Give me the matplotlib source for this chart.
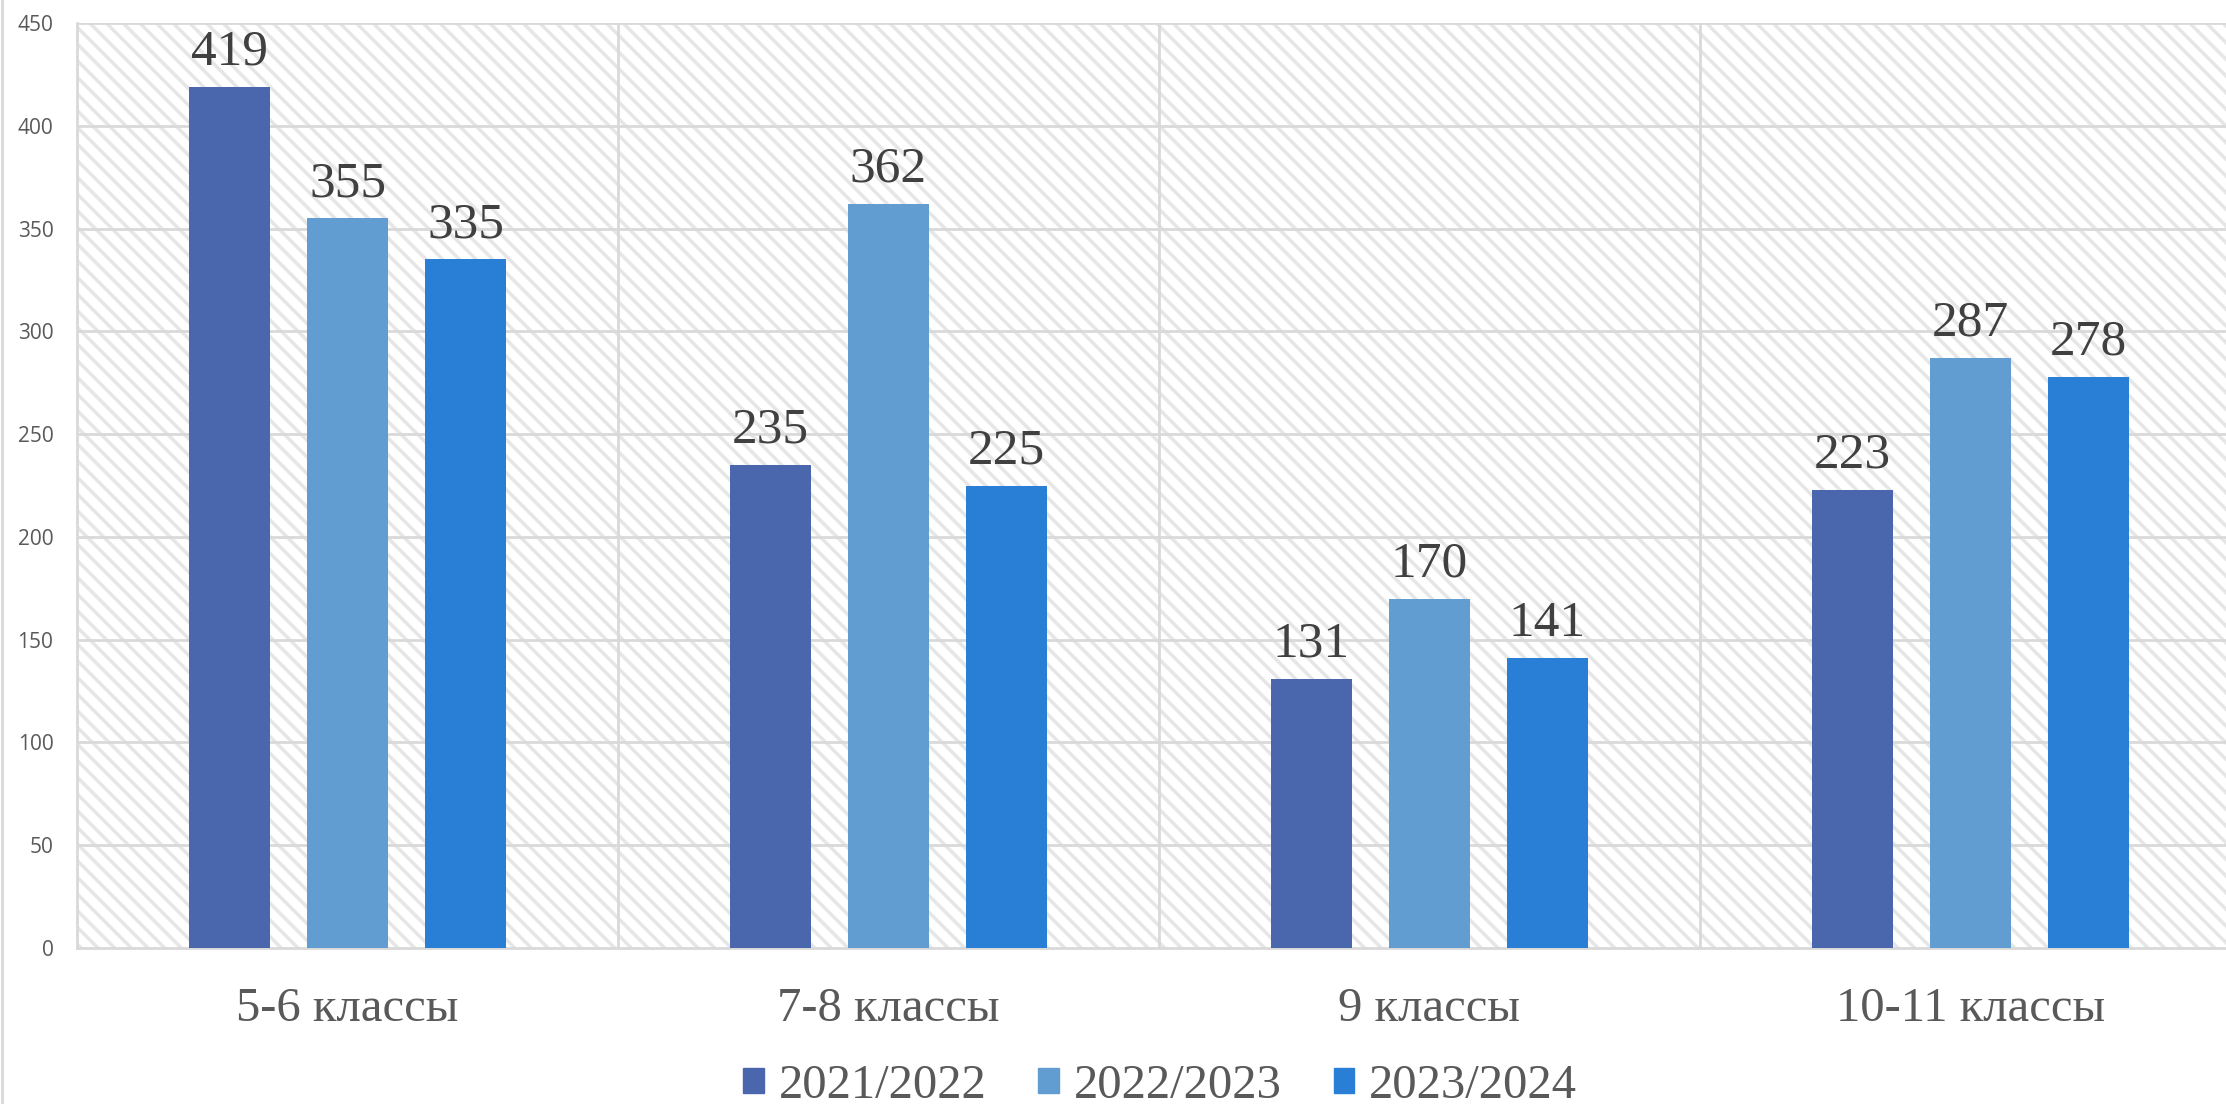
import matplotlib.pyplot as plt
import numpy as np
from matplotlib.patches import Rectangle
from matplotlib.lines import Line2D

# data
categories = ['5-6 классы', '7-8 классы', '9 классы', '10-11 классы']
years = ['2021/2022', '2022/2023', '2023/2024']
v_2021 = [419, 235, 131, 223]
v_2022 = [355, 362, 170, 287]
v_2023 = [335, 225, 141, 278]
colors = ['#4A66AC', '#629DD1', '#297FD5']

series = [v_2021, v_2022, v_2023]

plt.rcParams['hatch.linewidth'] = 2.5

fig = plt.figure(figsize=(22.26, 11.04), dpi=100)
ax = fig.add_axes([77/2226, 1-948/1104, 2164/2226, 925/1104])

# hatched background
bg = Rectangle((0, 0), 1, 1, transform=ax.transAxes, facecolor='white',
               edgecolor='#e6e6e6', hatch='\\\\', linewidth=0, zorder=0)
ax.add_patch(bg)

x = np.arange(len(categories))
width = 0.15
step = 0.218

for i, (vals, col, lab) in enumerate(zip(series, colors, years)):
    pos = x + (i - 1) * step
    bars = ax.bar(pos, vals, width, color=col, label=lab, zorder=3)
    for b, v in zip(bars, vals):
        ax.annotate(str(v), (b.get_x() + b.get_width() / 2, v),
                    xytext=(0, 8), textcoords='offset points',
                    ha='center', va='bottom', fontsize=37,
                    family='Liberation Serif', color='#404040', zorder=4)

ax.set_xlim(-0.5, 3.5)
ax.set_ylim(0, 450)
ax.set_yticks(range(0, 451, 50))
ax.set_xticks(x)
ax.set_xticklabels(categories, family='Liberation Serif', fontsize=35, color='#595959')
ax.tick_params(axis='x', length=0, pad=28)
ax.tick_params(axis='y', length=0, pad=17, labelsize=15, labelcolor='#595959')
for t in ax.get_yticklabels():
    t.set_family('Open Sans')

# grid
for yv in range(50, 451, 50):
    ax.axhline(yv, color='#d9d9d9', lw=2, zorder=1)
for xv in [0.5, 1.5, 2.5]:
    ax.axvline(xv, color='#d9d9d9', lw=2, zorder=1)

for s in ['top', 'right']:
    ax.spines[s].set_visible(False)
ax.spines['left'].set_color('#d9d9d9')
ax.spines['left'].set_linewidth(2)
ax.spines['bottom'].set_color('#d9d9d9')
ax.spines['bottom'].set_linewidth(2)

# chart border on the left
fig.add_artist(Line2D([2/2226, 2/2226], [0, 1], color='#d9d9d9', lw=2))

handles = [Rectangle((0, 0), 1, 1, color=c) for c in colors]
leg = fig.legend(handles, years, loc='center', bbox_to_anchor=(1160/2226, 1-1086/1104),
                 ncol=3, frameon=False, handlelength=0.43, handleheight=0.43,
                 handletextpad=0.3, columnspacing=1.07, borderpad=0,
                 prop={'family': 'Liberation Serif', 'size': 35})
for t in leg.get_texts():
    t.set_color('#595959')

fig.savefig('out.png', dpi=100)
